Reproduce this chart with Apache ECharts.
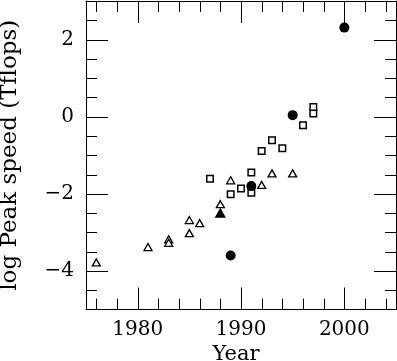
<!DOCTYPE html>
<html>
<head>
<meta charset="utf-8">
<script src="https://cdn.jsdelivr.net/npm/echarts@6/dist/echarts.min.js"></script>
<style>
html,body{margin:0;padding:0;background:#fff;}
#chart{width:397px;height:361px;}
</style>
</head>
<body>
<div id="chart"></div>
<script>
// ---- data (year, log10 peak speed in Tflops) ----
const filledCircles = [[1989, -3.6], [1991, -1.8], [1995, 0.04], [2000, 2.31]];
const openSquares = [[1987, -1.61], [1989, -2.01], [1990, -1.86], [1991, -1.45], [1991, -1.97],
  [1992, -0.89], [1993, -0.61], [1994, -0.82], [1996, -0.22], [1997, 0.08], [1997, 0.25]];
const openTriangles = [[1976, -3.78], [1981, -3.38], [1983, -3.18], [1983, -3.27], [1985, -2.68],
  [1985, -3.02], [1986, -2.76], [1988, -2.27], [1989, -1.65], [1992, -1.77], [1993, -1.47], [1995, -1.47]];
const filledTriangles = [[1988, -2.5]];

// ---- axes ----
const X_MIN = 1975, X_MAX = 2005;
const Y_MIN = -5, Y_MAX = 3;
const xMajorTicks = [1980, 1990, 2000];
const xMinorTicks = [1976, 1978, 1982, 1984, 1986, 1988, 1992, 1994, 1996, 1998, 2002, 2004];
const yMajorTicks = [-4, -2, 0, 2];
const yMinorTicks = [-4.5, -3.5, -3, -2.5, -1.5, -1, -0.5, 0.5, 1, 1.5, 2.5];
const xTickLabels = ['1980', '1990', '2000'];
const yTickLabels = ['\u22124', '\u22122', '0', '2'];

const MAJOR_LEN = 22, MINOR_LEN = 11;
const FONT = 'DejaVu Serif';

const chart = echarts.init(document.getElementById('chart'), null, {renderer: 'canvas'});

function snap(v) { return Math.round(v) + 0.5; }

function xTickRender(params, api) {
  const v = api.value(0), len = api.value(2);
  const b = api.coord([v, Y_MIN]);
  const t = api.coord([v, Y_MAX]);
  const x = snap(b[0]);
  const st = {stroke: '#000', lineWidth: 1};
  return {type: 'group', children: [
    {type: 'line', shape: {x1: x, y1: b[1], x2: x, y2: b[1] - len}, style: st},
    {type: 'line', shape: {x1: x, y1: t[1], x2: x, y2: t[1] + len}, style: st}
  ]};
}
function yTickRender(params, api) {
  const v = api.value(1), len = api.value(2);
  const l = api.coord([X_MIN, v]);
  const r = api.coord([X_MAX, v]);
  const y = snap(l[1]);
  const st = {stroke: '#000', lineWidth: 1};
  return {type: 'group', children: [
    {type: 'line', shape: {x1: l[0], y1: y, x2: l[0] + len, y2: y}, style: st},
    {type: 'line', shape: {x1: r[0], y1: y, x2: r[0] - len, y2: y}, style: st}
  ]};
}

const xTickData = xMajorTicks.map(v => [v, Y_MIN, MAJOR_LEN]).concat(xMinorTicks.map(v => [v, Y_MIN, MINOR_LEN]));
const yTickData = yMajorTicks.map(v => [X_MIN, v, MAJOR_LEN]).concat(yMinorTicks.map(v => [X_MIN, v, MINOR_LEN]));

const xLabelMap = {}; xMajorTicks.forEach((v, i) => xLabelMap[v] = xTickLabels[i]);
const yLabelMap = {}; yMajorTicks.forEach((v, i) => yLabelMap[v] = yTickLabels[i]);

const lineStyle = {color: '#000', width: 1};

const option = {
  backgroundColor: '#fff',
  animation: false,
  grid: {left: 86, right: 1, top: 1, bottom: 51.5, containLabel: false, outerBoundsMode: 'none'},
  xAxis: [{
    type: 'value', min: X_MIN, max: X_MAX, interval: 5, position: 'bottom',
    axisLine: {show: true, onZero: false, lineStyle: lineStyle},
    axisTick: {show: false}, splitLine: {show: false},
    axisLabel: {color: '#000', fontFamily: FONT, fontSize: 20, margin: 10,
      formatter: v => xLabelMap[v] || ''},
    name: 'Year', nameLocation: 'middle', nameGap: 30,
    nameTextStyle: {color: '#000', fontFamily: FONT, fontSize: 21, padding: [0, 10, 0, 0]}
  }, {
    type: 'value', min: X_MIN, max: X_MAX, position: 'top',
    axisLine: {show: true, onZero: false, lineStyle: lineStyle},
    axisTick: {show: false}, axisLabel: {show: false}, splitLine: {show: false}
  }],
  yAxis: [{
    type: 'value', min: Y_MIN, max: Y_MAX, interval: 1, position: 'left',
    axisLine: {show: true, onZero: false, lineStyle: lineStyle},
    axisTick: {show: false}, splitLine: {show: false},
    axisLabel: {color: '#000', fontFamily: FONT, fontSize: 20, margin: 12,
      formatter: v => yLabelMap[v] || ''},
    name: 'log Peak speed (Tflops)', nameLocation: 'middle', nameGap: 64,
    nameTextStyle: {color: '#000', fontFamily: FONT, fontSize: 23}
  }, {
    type: 'value', min: Y_MIN, max: Y_MAX, position: 'right',
    axisLine: {show: true, onZero: false, lineStyle: lineStyle},
    axisTick: {show: false}, axisLabel: {show: false}, splitLine: {show: false}
  }],
  series: [
    {type: 'custom', renderItem: xTickRender, data: xTickData, silent: true, clip: false},
    {type: 'custom', renderItem: yTickRender, data: yTickData, silent: true, clip: false},
    {type: 'scatter', data: openTriangles, symbol: 'triangle', symbolSize: [8, 7],
      itemStyle: {color: '#fff', borderColor: '#000', borderWidth: 1.3, opacity: 1}},
    {type: 'scatter', data: filledTriangles, symbol: 'triangle', symbolSize: [9, 8],
      itemStyle: {color: '#000', borderColor: '#000', borderWidth: 1.3, opacity: 1}},
    {type: 'scatter', data: openSquares, symbol: 'rect', symbolSize: 6.5,
      itemStyle: {color: '#fff', borderColor: '#000', borderWidth: 1.5, opacity: 1}},
    {type: 'scatter', data: filledCircles, symbol: 'circle', symbolSize: 10,
      itemStyle: {color: '#000', opacity: 1}}
  ]
};
chart.setOption(option);
</script>
</body>
</html>
